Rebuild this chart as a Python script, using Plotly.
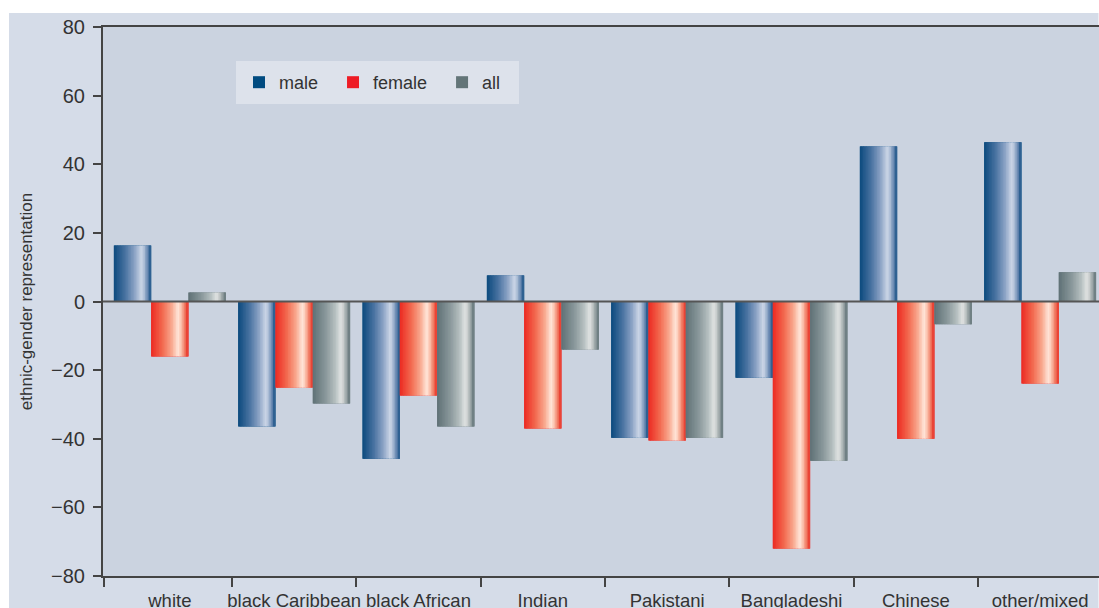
import plotly.graph_objects as go

categories = ["white", "black Caribbean", "black African", "Indian",
              "Pakistani", "Bangladeshi", "Chinese", "other/mixed"]
male = [16.3, -36.4, -45.8, 7.6, -39.7, -22.2, 45.2, 46.4]
female = [-16.0, -25.1, -27.4, -37.0, -40.5, -72.0, -40.0, -23.9]
all_vals = [2.6, -29.7, -36.4, -14.0, -39.7, -46.4, -6.6, 8.5]
series_names = ["male", "female", "all"]
y_ticks = [-80, -60, -40, -20, 0, 20, 40, 60, 80]

legend_colors = ["#004b80", "#ee1c25", "#637578"]
gradients = [
    [(0.0, "#0c4a7e"), (0.3, "#4872a0"), (0.55, "#8aa2c4"), (0.74, "#ccd6e7"),
     (0.8, "#b2c2d9"), (0.9, "#6a8ab2"), (1.0, "#1f5689")],
    [(0.0, "#ec2a22"), (0.3, "#f2694f"), (0.55, "#f9a88e"), (0.72, "#ffe6da"),
     (0.8, "#fcc4b0"), (0.9, "#f07a62"), (1.0, "#e8362a")],
    [(0.0, "#5f7176"), (0.35, "#8a989b"), (0.6, "#b5bfc0"), (0.75, "#e0e3e2"),
     (0.82, "#c8cdcd"), (0.92, "#8e9a9c"), (1.0, "#65777b")],
]
# trailing non-breaking spaces only widen the legend entries (spacing)
legend_pad = ["\u00a0\u00a0", "\u00a0\u00a0", "\u00a0\u00a0"]


def hex2rgb(h):
    h = h.lstrip("#")
    return tuple(int(h[i:i + 2], 16) for i in (0, 2, 4))


def interp(stops, t):
    for (t0, c0), (t1, c1) in zip(stops[:-1], stops[1:]):
        if t0 <= t <= t1:
            f = (t - t0) / (t1 - t0) if t1 > t0 else 0
            a, b = hex2rgb(c0), hex2rgb(c1)
            r = [round(a[k] + (b[k] - a[k]) * f) for k in range(3)]
            return "rgb(%d,%d,%d)" % tuple(r)
    return stops[-1][1]


FONT = "Liberation Sans, Arial, Helvetica, sans-serif"
TXT = "#333333"
x_idx = list(range(len(categories)))
data_sets = [male, female, all_vals]

fig = go.Figure()
group_w = 0.9
bw = group_w / 3
N = 24
for j, (name, vals) in enumerate(zip(series_names, data_sets)):
    start = -group_w / 2 + j * bw
    fig.add_trace(go.Bar(
        x=x_idx, y=vals, name=name + legend_pad[j], offset=start, width=bw,
        marker=dict(color=legend_colors[j], line=dict(width=0)),
        legendgroup=name, showlegend=True, hoverinfo="skip"))
    for i in range(N):
        t = (i + 0.5) / N
        w = bw / N
        fig.add_trace(go.Bar(
            x=x_idx, y=vals, name=name, offset=start + i * w,
            width=w * (1.6 if i < N - 1 else 1.0),
            marker=dict(color=interp(gradients[j], t), line=dict(width=0)),
            legendgroup=name, showlegend=False, hoverinfo="skip"))

# paper geometry helpers (plot area: x 103..1099, y 27..576)
L, T, B = 103, 27, 32
W, H = 1099, 608
pw, ph = W - L, H - T - B

def px2paper_x(px):
    return (px - L) / pw

def py2paper_y(py):
    return (H - B - py) / ph

shapes = [
    dict(type="rect", xref="paper", yref="paper",
         x0=px2paper_x(9), x1=px2paper_x(1098.5), y0=py2paper_y(630), y1=py2paper_y(13),
         fillcolor="#d5dce8", line=dict(width=0), layer="below"),
    dict(type="rect", xref="paper", yref="paper", x0=0, x1=1, y0=0, y1=1,
         fillcolor="#cbd3e0", line=dict(width=0), layer="below"),
    dict(type="line", xref="paper", yref="y", x0=0, x1=1, y0=0, y1=0,
         line=dict(color="#555555", width=2), layer="above"),
]

cat_w = 124.33
x_start = 0.5 - (232 - L) / cat_w
x_end = x_start + pw / cat_w
fig.update_layout(
    width=W, height=H,
    margin=dict(l=L, r=0, t=T, b=B, autoexpand=False),
    paper_bgcolor="white",
    plot_bgcolor="rgba(0,0,0,0)",
    barmode="overlay",
    font=dict(family=FONT, color=TXT, size=18),
    shapes=shapes,
    showlegend=True,
    legend=dict(orientation="h", x=px2paper_x(236), y=py2paper_y(61),
                xanchor="left", yanchor="top", bgcolor="#dde2eb",
                bordercolor="#dde2eb", borderwidth=3,
                font=dict(family=FONT, size=18, color=TXT),
                itemclick=False, traceorder="normal"),
    xaxis=dict(
        range=[x_start, x_end], automargin=False,
        tickmode="array", tickvals=x_idx, ticktext=categories,
        ticks="", showgrid=False, zeroline=False,
        showline=True, linecolor="#444444", linewidth=2, mirror=True,
        tickfont=dict(family=FONT, size=18.5, color=TXT),
        ticklabelstandoff=7,
        minor=dict(tickmode="array",
                   tickvals=[x_start + 0.004] + [k - 0.5 for k in range(1, len(categories))],
                   ticks="outside", ticklen=9, tickwidth=1.5, tickcolor="#444444",
                   showgrid=False),
    ),
    yaxis=dict(
        range=[-80, 80], automargin=False, tickmode="array", tickvals=y_ticks,
        ticks="outside", ticklen=8, tickwidth=1.5, tickcolor="#444444",
        showgrid=False, zeroline=False,
        showline=True, linecolor="#444444", linewidth=2,
        tickfont=dict(family=FONT, size=20, color=TXT),
        ticklabelstandoff=4,
        title=dict(text="ethnic-gender representation",
                   font=dict(family=FONT, size=17, color=TXT), standoff=14),
    ),
)

fig.write_html("out.html", config={"displayModeBar": False},
               post_script="document.body.style.margin='0';document.body.style.overflow='hidden';")
